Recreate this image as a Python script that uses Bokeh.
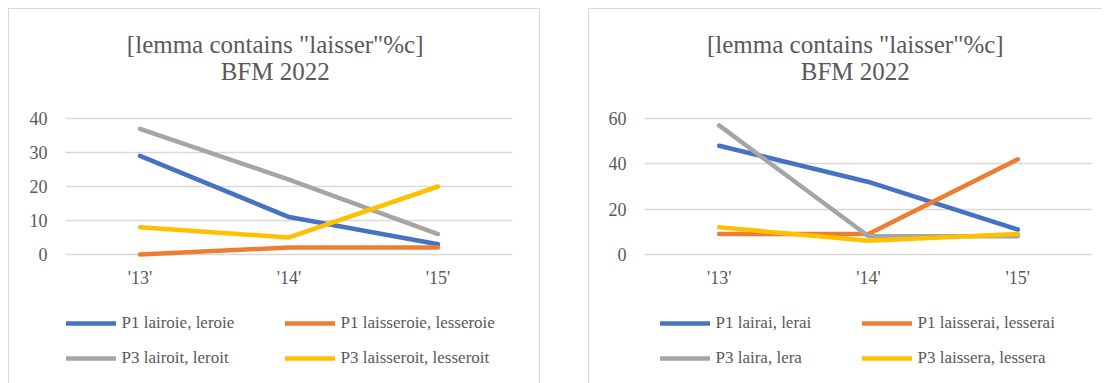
from bokeh.plotting import figure
from bokeh.models import FactorRange, Range1d, FixedTicker, Legend, LegendItem, Label, Spacer
from bokeh.layouts import row, column
from bokeh.embed import file_html
from bokeh.resources import INLINE

years = ["'13'", "'14'", "'15'"]
title_line1 = '[lemma contains "laisser"%c]'
title_line2 = "BFM 2022"

left_labels = ["P1 lairoie, leroie", "P1 laisseroie, lesseroie",
               "P3 lairoit, leroit", "P3 laisseroit, lesseroit"]
left_p1_lairoie = [29, 11, 3]
left_p1_laisseroie = [0, 2, 2]
left_p3_lairoit = [37, 22, 6]
left_p3_laisseroit = [8, 5, 20]
left_ticks = [0, 10, 20, 30, 40]

right_labels = ["P1 lairai, lerai", "P1 laisserai, lesserai",
                "P3 laira, lera", "P3 laissera, lessera"]
right_p1_lairai = [48, 32, 11]
right_p1_laisserai = [9, 9, 42]
right_p3_laira = [57, 8, 8]
right_p3_laissera = [12, 6, 9]
right_ticks = [0, 20, 40, 60]

COLORS = ["#4472C4", "#ED7D31", "#A5A5A5", "#FFC000"]
FONT = "Liberation Serif"
TXT = "#595959"
GRID = "#D9D9D9"
BORDER = "1px solid #D9D9D9"


def blank_fig(width, height, styles, x_range):
    f = figure(width=width, height=height, x_range=x_range, y_range=Range1d(0, 1),
               x_axis_type=None, y_axis_type=None, output_backend="svg",
               toolbar_location=None, min_border=0, outline_line_color=None, styles=styles)
    f.grid.visible = False
    return f


def make_chart(width, mbl, mbr, ticks, pad, series, labels, title_x, leg_x, leg_lw, sides):
    st_top = {("border-" + s): BORDER for s in sides + ["top"]}
    st_mid = {("border-" + s): BORDER for s in sides}

    # title
    t = blank_fig(width, 92, st_top, Range1d(0, 1))
    for txt, yy in ((title_line1, 57.5), (title_line2, 30.2)):
        t.add_layout(Label(x=title_x, y=yy, x_units="screen", y_units="screen", text=txt,
                           text_align="center", text_baseline="middle",
                           text_font=FONT, text_color=TXT, text_font_size="25px"))

    # plot
    p = figure(width=width, height=200, x_range=FactorRange(*years, range_padding=0),
               y_range=Range1d(ticks[0] - pad, ticks[-1] + pad),
               output_backend="svg", toolbar_location=None,
               min_border_left=mbl, min_border_right=mbr, min_border_top=13,
               min_border_bottom=41, outline_line_color=None, styles=st_mid)
    p.xgrid.grid_line_color = None
    p.ygrid.grid_line_color = GRID
    p.ygrid.grid_line_width = 1.3
    p.yaxis.ticker = FixedTicker(ticks=ticks)
    for ax in (p.xaxis[0], p.yaxis[0]):
        ax.axis_line_color = None
        ax.major_tick_line_color = None
        ax.minor_tick_line_color = None
        ax.major_tick_out = 0
        ax.major_tick_in = 0
        ax.minor_tick_out = 0
        ax.major_label_text_font = FONT
        ax.major_label_text_color = TXT
        ax.major_label_text_font_size = "18px"
    p.yaxis.major_label_standoff = 18
    p.xaxis.major_label_standoff = 8
    for vals, col in zip(series, COLORS):
        p.line(years, vals, line_color=col, line_width=4.5,
               line_cap="round", line_join="round")

    # legend (its own hidden copies of the series, used only for the legend swatches)
    lg = blank_fig(width, 83, st_mid, FactorRange(*years, range_padding=0))
    items = []
    for vals, lab, col in zip(series, labels, COLORS):
        r = lg.line(years, vals, line_color=col, line_width=4.5, line_cap="round",
                    visible=False)
        items.append(LegendItem(label=lab, renderers=[r]))
    leg = Legend(items=items, location=(leg_x, 15.3), orientation="horizontal", ncols=2,
                 padding=0, margin=0, border_line_color=None, background_fill_alpha=0,
                 inactive_fill_alpha=0,
                 glyph_width=50, glyph_height=20, label_height=20, label_width=leg_lw,
                 label_standoff=6, spacing=15,
                 label_text_font=FONT, label_text_color=TXT, label_text_font_size="17px")
    lg.add_layout(leg, "center")
    return column(t, p, lg)


c_left = make_chart(532, 56, 29, left_ticks, 1.5,
                    [left_p1_lairoie, left_p1_laisseroie, left_p3_lairoit, left_p3_laisseroit],
                    left_labels, 209.7, 0.5, 148, ["left", "right"])
c_right = make_chart(514, 55, 11, right_ticks, 2.25,
                     [right_p1_lairai, right_p1_laisserai, right_p3_laira, right_p3_laissera],
                     right_labels, 210.8, 15.5, 131, ["left"])

layout = column(Spacer(width=10, height=8),
                row(Spacer(width=8, height=10), c_left, Spacer(width=48, height=10), c_right))
open("out.html", "w").write(file_html(layout, INLINE))
